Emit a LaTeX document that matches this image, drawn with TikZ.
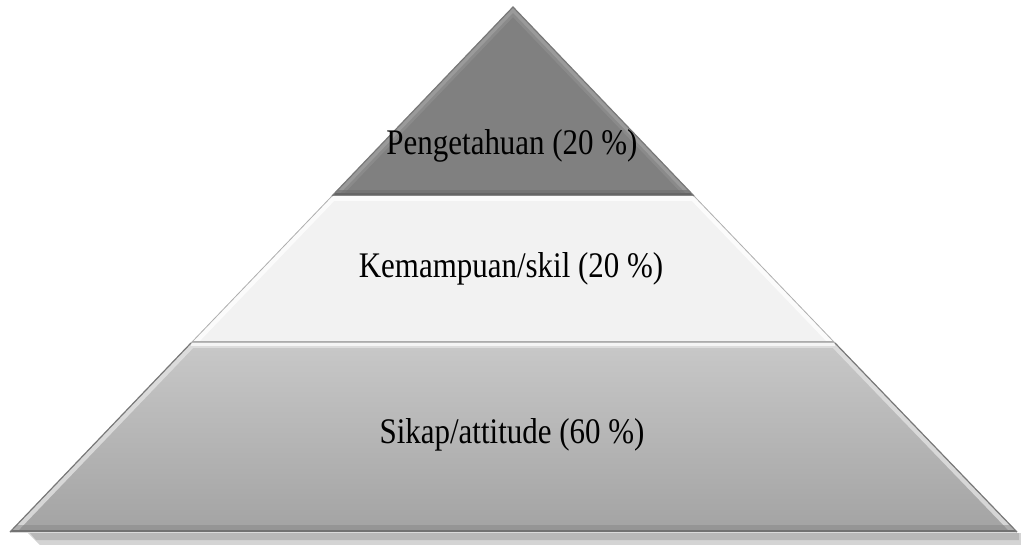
\documentclass[tikz,border=0pt]{standalone}
\usepackage{fontspec}
\setmainfont{Liberation Serif}
\usepackage{graphicx}
\definecolor{topfill}{HTML}{808080}
\definecolor{topbevel}{HTML}{A2A2A2}
\definecolor{topdark}{HTML}{5A5A5A}
\definecolor{midfill}{HTML}{F2F2F2}
\definecolor{midbevel}{HTML}{FBFBFB}
\definecolor{midline}{HTML}{ABABAB}
\definecolor{botA}{HTML}{C8C8C8}
\definecolor{botB}{HTML}{A3A3A3}
\definecolor{botbevel}{HTML}{E2E2E2}
\definecolor{botdark}{HTML}{5E5E5E}
\definecolor{edge}{HTML}{787878}
\definecolor{shadowc}{HTML}{B8B8B8}
\tikzset{
  lbl/.style={anchor=base, inner sep=0pt, font=\fontsize{36}{40}\selectfont, text=black},
}
\newcommand{\squash}[1]{\scalebox{0.86}[1]{#1}}
\begin{document}
\begin{tikzpicture}[x=1pt,y=-1pt]
\useasboundingbox (0,0) rectangle (1021,545);
% key points
\coordinate (apex) at (513,7);
\coordinate (l1) at (332,196);
\coordinate (r1) at (694,196);
\coordinate (l2) at (191,343);
\coordinate (r2) at (835,343);
\coordinate (l3) at (10,532);
\coordinate (r3) at (1017,532);
% shadow
\fill[shadowc!60] (28,533) -- (1021,533) -- (1021,545) -- (40,545) -- cycle;
\fill[shadowc] (30,533) -- (1019,533) -- (1019,540) -- (36,540) -- cycle;
% top band
\begin{scope}
  \clip (apex) -- (r1) -- (l1) -- cycle;
  \fill[topfill] (apex) -- (r1) -- (l1) -- cycle;
  \draw[topbevel, line width=8pt] (l1) -- (apex) -- (r1);
  \draw[topbevel!60!topfill, line width=14pt, opacity=0.5] (l1) -- (apex) -- (r1);
  \draw[topdark, line width=6pt] (l1) -- (r1);
  \draw[topdark!50!topfill, line width=12pt, opacity=0.6] (l1) -- (r1);
\end{scope}
% middle band
\begin{scope}
  \clip (l1) -- (r1) -- (r2) -- (l2) -- cycle;
  \fill[midfill] (l1) -- (r1) -- (r2) -- (l2) -- cycle;
  \draw[midbevel, line width=10pt] (l2) -- (l1) -- (r1) -- (r2);
  \draw[midline, line width=3pt] (l2) -- (r2);
\end{scope}
% bottom band
\begin{scope}
  \clip (l2) -- (r2) -- (r3) -- (l3) -- cycle;
  \shade[top color=botA, bottom color=botB] (l2) -- (r2) -- (r3) -- (l3) -- cycle;
  \draw[botbevel, line width=10pt, opacity=0.8] (l3) -- (l2) -- (r2) -- (r3);
  \draw[white, line width=6pt, opacity=0.7] (l2) -- (r2);
  \draw[botdark, line width=5pt] (l3) -- (r3);
  \draw[botdark!40!botB, line width=14pt, opacity=0.5] (l3) -- (r3);
\end{scope}
% outline of the sides
\draw[edge, line width=1.2pt] (l1) -- (apex) -- (r1);
\draw[edge!60, line width=0.8pt] (l1) -- (l2) (r1) -- (r2);
\draw[edge, line width=1.2pt] (l2) -- (l3) (r2) -- (r3);
% labels
\node[lbl] (t1) at (512,155) {\squash{Pengetahuan (20~\%)}};
\node[lbl] (t2) at (511,278) {\squash{Kemampuan/skil (20~\%)}};
\node[lbl] (t3) at (512,444) {\squash{Sikap/attitude (60~\%)}};
\end{tikzpicture}
\end{document}
